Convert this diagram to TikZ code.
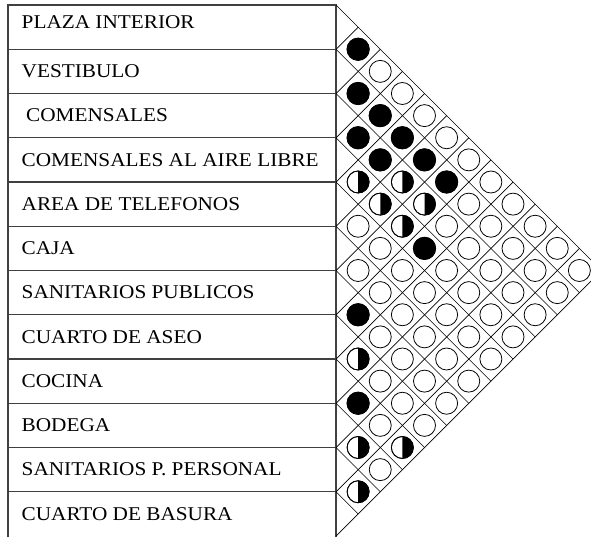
\documentclass[tikz,border=0pt]{standalone}
\usepackage{fontspec}
\setmainfont{Liberation Serif}[FakeStretch=1.09]
\begin{document}
\begin{tikzpicture}[x=1pt,y=-1pt,
  tbl/.style={draw=black!75, line width=1.2pt},
  gridline/.style={draw=black, line width=0.7pt},
  lab/.style={anchor=base west, inner sep=0pt, font=\fontsize{19.5}{20}\selectfont},
  opencirc/.style={draw=black, line width=0.8pt, fill=white},
  fullcirc/.style={fill=black},
]
\useasboundingbox (0,0) rectangle (591,536);
\def\mx{336}
\def\my{5}
\def\rh{44.25}
\def\hs{22.125}
% table
\draw[tbl] (8,540) -- (8,5) -- (336,5) -- (336,540);
\foreach \k in {1,...,11} \draw[tbl] (8,{5+\k*\rh}) -- (336,{5+\k*\rh});
% labels
\node[lab] (r1) at (21.5,28.3) {PLAZA INTERIOR};
\node[lab] (r2) at (21.5,{5+1.5*\rh+6.35}) {VESTIBULO};
\node[lab] (r3) at (26,{5+2.5*\rh+6.35}) {COMENSALES};
\node[lab] (r4) at (21.5,{5+3.5*\rh+6.35}) {COMENSALES AL AIRE LIBRE};
\node[lab] (r5) at (21.5,{5+4.5*\rh+6.35}) {AREA DE TELEFONOS};
\node[lab] (r6) at (21.5,{5+5.5*\rh+6.35}) {CAJA};
\node[lab] (r7) at (21.5,{5+6.5*\rh+6.35}) {SANITARIOS PUBLICOS};
\node[lab] (r8) at (21.5,{5+7.5*\rh+6.35}) {CUARTO DE ASEO};
\node[lab] (r9) at (21.5,{5+8.5*\rh+6.35}) {COCINA};
\node[lab] (r10) at (21.5,{5+9.5*\rh+6.35}) {BODEGA};
\node[lab] (r11) at (21.5,{5+10.5*\rh+6.35}) {SANITARIOS P. PERSONAL};
\node[lab] (r12) at (21.5,{5+11.5*\rh+6.35}) {CUARTO DE BASURA};
% grid
\foreach \k in {0,...,11}
  \draw[gridline] (\mx,{\my+2*\k*\hs}) -- ({\mx+(12-\k)*\hs},{\my+(12+\k)*\hs});
\foreach \k in {1,...,12}
  \draw[gridline] (\mx,{\my+2*\k*\hs}) -- ({\mx+\k*\hs},{\my+\k*\hs});
% open circles
\foreach \i in {1,...,11}{
  \pgfmathtruncatemacro\jst{\i+1}
  \foreach \j in {\jst,...,12}
    \draw[opencirc] ({\mx+(\j-\i)*\hs},{\my+(\i+\j-1)*\hs}) circle[radius=11pt];
}
% full circles
\foreach \i/\j in {1/2,2/3,2/4,3/4,2/5,3/5,2/6,2/7,4/8,7/8,9/10}
  \fill[fullcirc] ({\mx+(\j-\i)*\hs},{\my+(\i+\j-1)*\hs}) circle[radius=11.6pt];
% half circles
\foreach \i/\j in {4/5,3/6,4/6,3/7,4/7,8/9,10/11,9/12,11/12}{
  \fill[fullcirc] ({\mx+(\j-\i)*\hs},{\my+(\i+\j-1)*\hs}) ++(90:11pt)
     arc[start angle=90, end angle=-90, radius=11pt] -- cycle;
  \draw[line width=0.8pt] ({\mx+(\j-\i)*\hs},{\my+(\i+\j-1)*\hs}) circle[radius=11pt];
}
\end{tikzpicture}
\end{document}
